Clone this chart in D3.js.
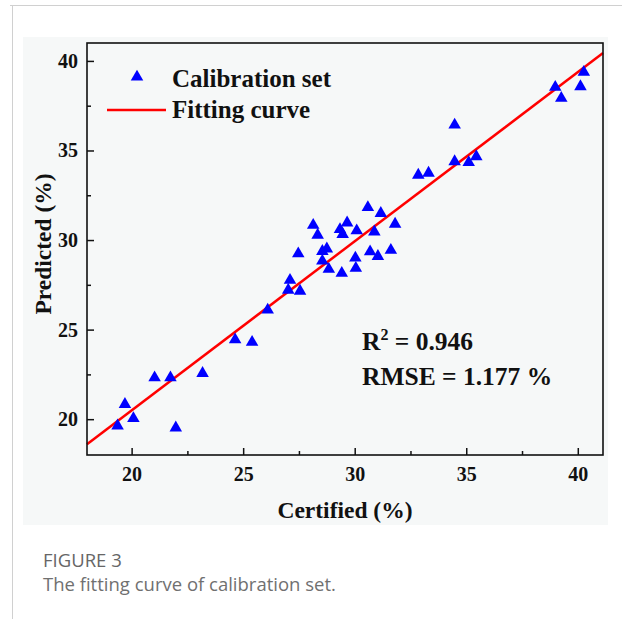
<!DOCTYPE html>
<html>
<head>
<meta charset="utf-8">
<script src="https://cdn.jsdelivr.net/npm/d3@7"></script>
<style>
  body { margin: 0; background: #fff; }
</style>
</head>
<body>
<div id="chart"></div>
<script>
// values
var certified = [19.37, 19.70, 20.08, 21.03, 21.74, 21.98, 23.18, 24.64, 25.40, 26.10,
                 27.02, 27.10, 27.55, 27.47, 28.14, 28.34, 28.55, 28.55, 28.75, 28.84,
                 29.34, 29.42, 29.46, 29.66, 30.03, 30.05, 30.09, 30.59, 30.69, 30.88,
                 31.04, 31.17, 31.62, 31.81, 32.85, 33.31, 34.48, 34.48, 35.11, 35.45,
                 38.99, 39.26, 40.12, 40.27];
var predicted = [19.63, 20.83, 20.04, 22.32, 22.32, 19.52, 22.56, 24.44, 24.30, 26.10,
                 27.21, 27.76, 27.15, 29.24, 30.83, 30.28, 29.37, 28.83, 29.51, 28.37,
                 30.59, 28.15, 30.32, 30.96, 29.00, 28.43, 30.52, 31.82, 29.35, 30.46,
                 29.09, 31.49, 29.43, 30.89, 33.63, 33.74, 36.43, 34.38, 34.33, 34.66,
                 38.53, 37.92, 38.57, 39.37];
var majorTicks = [20, 25, 30, 35, 40];
var minorTicks = [22.5, 27.5, 32.5, 37.5];
var fit = {slope: 0.944, intercept: 1.61};
var legendLabels = ["Calibration set", "Fitting curve"];
var stats = ["R\u00b2 = 0.946", "RMSE = 1.177 %"];

var W = 622, H = 619;
var margin = {left: 87, top: 43, right: 19, bottom: 164};
var w = W - margin.left - margin.right,
    h = H - margin.top - margin.bottom;

var svg = d3.select("#chart").append("svg")
    .attr("width", W)
    .attr("height", H);

// page decoration
svg.append("line").attr("x1", 10).attr("x2", W).attr("y1", 5.5).attr("y2", 5.5)
    .attr("stroke", "#d0d0d0");
svg.append("line").attr("x1", 12.5).attr("x2", 12.5).attr("y1", 5).attr("y2", H)
    .attr("stroke", "#d0d0d0");
svg.append("rect").attr("x", 23).attr("y", 37).attr("width", 585).attr("height", 488)
    .attr("fill", "#f6f8f8");

var xscale = d3.scaleLinear().domain([18, 41.13]).range([0, w]);
var yscale = d3.scaleLinear().domain([18, 41]).range([h, 0]);

var chart = svg.append("g")
    .attr("transform", "translate(" + margin.left + "," + margin.top + ")");

var font = "'Liberation Serif', 'Times New Roman', serif";

// x axis
chart.append("g")
    .attr("transform", "translate(0," + h + ")")
    .call(d3.axisBottom(xscale).tickValues(majorTicks).tickSize(-7).tickPadding(12).tickFormat(d3.format("d")));
chart.append("g")
    .attr("transform", "translate(0," + h + ")")
    .call(d3.axisBottom(xscale).tickValues(minorTicks).tickSize(-4).tickFormat(""));

// y axis
chart.append("g")
    .call(d3.axisLeft(yscale).tickValues(majorTicks).tickSize(-7).tickPadding(9).tickFormat(d3.format("d")));
chart.append("g")
    .call(d3.axisLeft(yscale).tickValues(minorTicks).tickSize(-4).tickFormat(""));

chart.selectAll(".domain").remove();
chart.selectAll(".tick line").attr("stroke", "#111").attr("stroke-width", 1.5);
chart.selectAll(".tick text")
    .attr("font-family", font)
    .attr("font-weight", "bold")
    .attr("font-size", 20)
    .attr("fill", "#111");

// fitting line
chart.append("line")
    .attr("x1", xscale(18)).attr("y1", yscale(fit.slope * 18 + fit.intercept))
    .attr("x2", xscale(41.13)).attr("y2", yscale(fit.slope * 41.13 + fit.intercept))
    .attr("stroke", "#ff0000")
    .attr("stroke-width", 2.5);

// points
var tri = d3.symbol().type(d3.symbolTriangle).size(68);
chart.selectAll("path.pt")
    .data(certified)
    .enter()
    .append("path")
    .attr("class", "pt")
    .attr("d", tri)
    .attr("transform", (d, i) => "translate(" + xscale(d) + "," + yscale(predicted[i]) + ")")
    .attr("fill", "#0000ff");

// frame
chart.append("rect")
    .attr("width", w).attr("height", h)
    .attr("fill", "none")
    .attr("stroke", "#111")
    .attr("stroke-width", 1.6);

// legend
chart.append("path")
    .attr("d", tri)
    .attr("transform", "translate(50,34)")
    .attr("fill", "#0000ff");
chart.append("line")
    .attr("x1", 20).attr("x2", 79).attr("y1", 67).attr("y2", 67)
    .attr("stroke", "#ff0000").attr("stroke-width", 2.5);
chart.selectAll("text.leg")
    .data(legendLabels)
    .enter()
    .append("text")
    .attr("class", "leg")
    .attr("x", 85)
    .attr("y", (d, i) => 44 + i * 31)
    .attr("font-family", font)
    .attr("font-weight", "bold")
    .attr("font-size", 25)
    .attr("fill", "#111")
    .text(d => d);

// statistics
var st = chart.selectAll("text.st")
    .data(stats)
    .enter()
    .append("text")
    .attr("class", "st")
    .attr("x", 275)
    .attr("y", (d, i) => 307 + i * 35)
    .attr("font-family", font)
    .attr("font-weight", "bold")
    .attr("font-size", 25.5)
    .attr("fill", "#111");
st.each(function(d) {
    var t = d3.select(this);
    if (d.indexOf("\u00b2") >= 0) {
        t.append("tspan").text("R");
        t.append("tspan").text("2").attr("font-size", 16).attr("dy", -10);
        t.append("tspan").text(" = 0.946").attr("dy", 10);
    } else {
        t.text(d);
    }
});

// axis titles
svg.append("text")
    .attr("x", margin.left + w / 2)
    .attr("y", 518)
    .attr("text-anchor", "middle")
    .attr("font-family", font)
    .attr("font-weight", "bold")
    .attr("font-size", 23.5)
    .attr("fill", "#111")
    .text("Certified (%)");
svg.append("text")
    .attr("transform", "translate(51,244) rotate(-90)")
    .attr("text-anchor", "middle")
    .attr("font-family", font)
    .attr("font-weight", "bold")
    .attr("font-size", 23.5)
    .attr("fill", "#111")
    .text("Predicted (%)");

// caption
svg.append("text")
    .attr("x", 43).attr("y", 567)
    .attr("font-family", "'Open Sans', sans-serif")
    .attr("font-size", 18.5)
    .attr("font-weight", 500)
    .attr("fill", "#666")
    .text("FIGURE 3");
svg.append("text")
    .attr("x", 43).attr("y", 591)
    .attr("font-family", "'Open Sans', sans-serif")
    .attr("font-size", 18.5)
    .attr("fill", "#707070")
    .text("The fitting curve of calibration set.");
</script>
</body>
</html>
